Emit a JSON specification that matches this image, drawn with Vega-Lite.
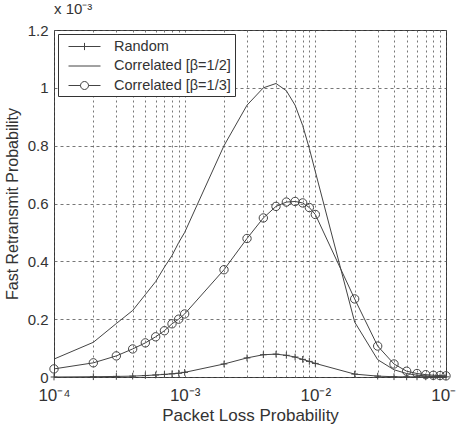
{
  "$schema": "https://vega.github.io/schema/vega-lite/v6.json",
  "autosize": {"type": "none"},
  "padding": {"left": 54, "top": 30, "right": 10, "bottom": 50},
  "width": 392,
  "height": 347,
  "background": "white",
  "title": {"text": "x 10⁻³", "anchor": "start", "frame": "group", "fontSize": 15, "font": "Liberation Sans", "fontWeight": "normal", "color": "#333", "offset": 6},
  "config": {
    "view": {"stroke": "#333", "strokeWidth": 1},
    "axis": {"labelFont": "Liberation Sans", "titleFont": "Liberation Sans", "labelFontSize": 15, "titleFontSize": 16, "titleFontWeight": "normal", "labelColor": "#333", "titleColor": "#333", "domain": false, "ticks": false, "gridColor": "#555", "gridOpacity": 0.8},
    "legend": {"labelFont": "Liberation Sans", "labelFontSize": 14.5, "labelColor": "#333"}
  },
  "data": {"values": [
    {"p": 0.0001, "series": "Random", "v": 0.0},
    {"p": 0.0002, "series": "Random", "v": 0.001},
    {"p": 0.0003, "series": "Random", "v": 0.002},
    {"p": 0.0004, "series": "Random", "v": 0.003},
    {"p": 0.0005, "series": "Random", "v": 0.005},
    {"p": 0.0006, "series": "Random", "v": 0.007},
    {"p": 0.0007, "series": "Random", "v": 0.009},
    {"p": 0.0008, "series": "Random", "v": 0.011},
    {"p": 0.0009, "series": "Random", "v": 0.013},
    {"p": 0.001, "series": "Random", "v": 0.016},
    {"p": 0.002, "series": "Random", "v": 0.045},
    {"p": 0.003, "series": "Random", "v": 0.066},
    {"p": 0.004, "series": "Random", "v": 0.077},
    {"p": 0.005, "series": "Random", "v": 0.079},
    {"p": 0.006, "series": "Random", "v": 0.075},
    {"p": 0.007, "series": "Random", "v": 0.069},
    {"p": 0.008, "series": "Random", "v": 0.061},
    {"p": 0.009, "series": "Random", "v": 0.054},
    {"p": 0.01, "series": "Random", "v": 0.047},
    {"p": 0.02, "series": "Random", "v": 0.01},
    {"p": 0.03, "series": "Random", "v": 0.003},
    {"p": 0.04, "series": "Random", "v": 0.001},
    {"p": 0.05, "series": "Random", "v": 0.0005},
    {"p": 0.06, "series": "Random", "v": 0.0005},
    {"p": 0.07, "series": "Random", "v": 0.0005},
    {"p": 0.08, "series": "Random", "v": 0.0005},
    {"p": 0.09, "series": "Random", "v": 0.0005},
    {"p": 0.1, "series": "Random", "v": 0.0005},
    {"p": 0.0001, "series": "Correlated [β=1/2]", "v": 0.062},
    {"p": 0.0002, "series": "Correlated [β=1/2]", "v": 0.12},
    {"p": 0.0003, "series": "Correlated [β=1/2]", "v": 0.185},
    {"p": 0.0004, "series": "Correlated [β=1/2]", "v": 0.23},
    {"p": 0.0005, "series": "Correlated [β=1/2]", "v": 0.285},
    {"p": 0.0006, "series": "Correlated [β=1/2]", "v": 0.33},
    {"p": 0.0007, "series": "Correlated [β=1/2]", "v": 0.38},
    {"p": 0.0008, "series": "Correlated [β=1/2]", "v": 0.42},
    {"p": 0.0009, "series": "Correlated [β=1/2]", "v": 0.465},
    {"p": 0.001, "series": "Correlated [β=1/2]", "v": 0.5},
    {"p": 0.002, "series": "Correlated [β=1/2]", "v": 0.8},
    {"p": 0.003, "series": "Correlated [β=1/2]", "v": 0.94},
    {"p": 0.004, "series": "Correlated [β=1/2]", "v": 1.0},
    {"p": 0.005, "series": "Correlated [β=1/2]", "v": 1.015},
    {"p": 0.006, "series": "Correlated [β=1/2]", "v": 0.99},
    {"p": 0.007, "series": "Correlated [β=1/2]", "v": 0.94},
    {"p": 0.008, "series": "Correlated [β=1/2]", "v": 0.87},
    {"p": 0.009, "series": "Correlated [β=1/2]", "v": 0.79},
    {"p": 0.01, "series": "Correlated [β=1/2]", "v": 0.71},
    {"p": 0.02, "series": "Correlated [β=1/2]", "v": 0.19},
    {"p": 0.03, "series": "Correlated [β=1/2]", "v": 0.06},
    {"p": 0.04, "series": "Correlated [β=1/2]", "v": 0.025},
    {"p": 0.05, "series": "Correlated [β=1/2]", "v": 0.012},
    {"p": 0.06, "series": "Correlated [β=1/2]", "v": 0.006},
    {"p": 0.07, "series": "Correlated [β=1/2]", "v": 0.004},
    {"p": 0.08, "series": "Correlated [β=1/2]", "v": 0.002},
    {"p": 0.09, "series": "Correlated [β=1/2]", "v": 0.0015},
    {"p": 0.1, "series": "Correlated [β=1/2]", "v": 0.001},
    {"p": 0.0001, "series": "Correlated [β=1/3]", "v": 0.028},
    {"p": 0.0002, "series": "Correlated [β=1/3]", "v": 0.049},
    {"p": 0.0003, "series": "Correlated [β=1/3]", "v": 0.073},
    {"p": 0.0004, "series": "Correlated [β=1/3]", "v": 0.097},
    {"p": 0.0005, "series": "Correlated [β=1/3]", "v": 0.118},
    {"p": 0.0006, "series": "Correlated [β=1/3]", "v": 0.139},
    {"p": 0.0007, "series": "Correlated [β=1/3]", "v": 0.16},
    {"p": 0.0008, "series": "Correlated [β=1/3]", "v": 0.184},
    {"p": 0.0009, "series": "Correlated [β=1/3]", "v": 0.2},
    {"p": 0.001, "series": "Correlated [β=1/3]", "v": 0.218},
    {"p": 0.002, "series": "Correlated [β=1/3]", "v": 0.371},
    {"p": 0.003, "series": "Correlated [β=1/3]", "v": 0.479},
    {"p": 0.004, "series": "Correlated [β=1/3]", "v": 0.55},
    {"p": 0.005, "series": "Correlated [β=1/3]", "v": 0.59},
    {"p": 0.006, "series": "Correlated [β=1/3]", "v": 0.605},
    {"p": 0.007, "series": "Correlated [β=1/3]", "v": 0.607},
    {"p": 0.008, "series": "Correlated [β=1/3]", "v": 0.602},
    {"p": 0.009, "series": "Correlated [β=1/3]", "v": 0.586},
    {"p": 0.01, "series": "Correlated [β=1/3]", "v": 0.562},
    {"p": 0.02, "series": "Correlated [β=1/3]", "v": 0.27},
    {"p": 0.03, "series": "Correlated [β=1/3]", "v": 0.107},
    {"p": 0.04, "series": "Correlated [β=1/3]", "v": 0.045},
    {"p": 0.05, "series": "Correlated [β=1/3]", "v": 0.02},
    {"p": 0.06, "series": "Correlated [β=1/3]", "v": 0.012},
    {"p": 0.07, "series": "Correlated [β=1/3]", "v": 0.008},
    {"p": 0.08, "series": "Correlated [β=1/3]", "v": 0.006},
    {"p": 0.09, "series": "Correlated [β=1/3]", "v": 0.005},
    {"p": 0.1, "series": "Correlated [β=1/3]", "v": 0.004}
  ]},
  "layer": [
    {
      "mark": {"type": "line", "stroke": "#444", "strokeWidth": 1},
      "encoding": {
        "x": {"field": "p", "type": "quantitative", "scale": {"type": "log", "domain": [0.0001, 0.1], "nice": false},
          "axis": {"title": "Packet Loss Probability", "titleFontSize": 17, "titleBaseline": "alphabetic", "titleY": 43, "values": [0.0001,0.0002,0.0003,0.0004,0.0005,0.0006,0.0007,0.0008,0.0009,0.001,0.002,0.003,0.004,0.005,0.006,0.007,0.008,0.009,0.01,0.02,0.03,0.04,0.05,0.06,0.07,0.08,0.09,0.1],
            "labelExpr": "datum.value == 0.0001 ? '10⁻⁴' : datum.value == 0.001 ? '10⁻³' : datum.value == 0.01 ? '10⁻²' : datum.value == 0.1 ? '10⁻¹' : ''",
            "labelFontSize": 17, "labelPadding": 10, "labelDx": 3, "gridDash": [2, 3], "labelFlush": false, "labelOverlap": false}},
        "y": {"field": "v", "type": "quantitative", "scale": {"domain": [0, 1.2], "nice": false},
          "axis": {"title": "Fast Retransmit Probability", "titleX": -42, "titleY": 173.5, "titleBaseline": "middle", "titleAngle": -90, "values": [0, 0.2, 0.4, 0.6, 0.8, 1, 1.2], "labelExpr": "datum.value == 0 ? '0' : datum.value == 1 ? '1' : format(datum.value, '.1f')", "labelPadding": 6, "gridDash": [3, 3]}},
        "detail": {"field": "series"}
      }
    },
    {
      "transform": [{"filter": "datum.series != 'Correlated [β=1/2]'"}],
      "mark": {"type": "point", "filled": false, "stroke": "#444", "strokeWidth": 1, "opacity": 1},
      "encoding": {
        "x": {"field": "p", "type": "quantitative"},
        "y": {"field": "v", "type": "quantitative"},
        "shape": {"field": "series", "type": "nominal", "legend": null, "scale": {"domain": ["Random", "Correlated [β=1/3]"], "range": ["M-1,0H1M0,-1V1", "circle"]}},
        "size": {"field": "series", "type": "nominal", "legend": null, "scale": {"domain": ["Random", "Correlated [β=1/3]"], "range": [45, 70]}}
      }
    },
    {
      "transform": [{"filter": "datum.v < -1"}],
      "mark": {"type": "point", "filled": false, "stroke": "#444", "strokeWidth": 1, "opacity": 1, "size": 256},
      "encoding": {
        "x": {"field": "p", "type": "quantitative"},
        "y": {"field": "v", "type": "quantitative"},
        "shape": {"field": "series", "type": "nominal",
          "scale": {"domain": ["Random", "Correlated [β=1/2]", "Correlated [β=1/3]"], "range": ["M-0.25,0H3.75M1.3,0H2.2M1.75,-0.45V0.45", "M-0.25,0H3.75", "M-0.25,0H1.25M2.25,0H3.75M1.25,0A0.5,0.5 0 1,0 2.25,0A0.5,0.5 0 1,0 1.25,0"]},
          "legend": {"title": null, "orient": "top-left", "offset": 4, "padding": 4, "strokeColor": "#333", "fillColor": "white", "symbolSize": 256, "symbolStrokeColor": "#444", "symbolStrokeWidth": 1, "symbolFillColor": "transparent", "labelOffset": 35, "rowPadding": 4.5, "cornerRadius": 0}}
      }
    }
  ],
  "resolve": {"scale": {"shape": "independent", "size": "independent"}}
}
